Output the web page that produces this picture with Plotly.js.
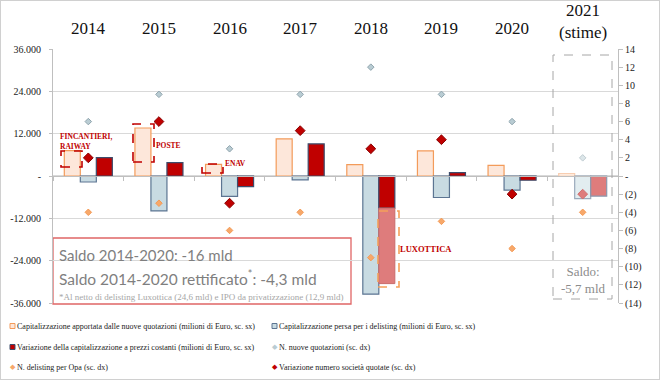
<!DOCTYPE html>
<html>
<head>
<meta charset="utf-8">
<script src="https://cdn.plot.ly/plotly-3.0.1.min.js"></script>
<style>
  html, body { margin: 0; padding: 0; background: #fff; }
  #chart { width: 658px; height: 378px; border: 1px solid #d0d0d0; }
</style>
</head>
<body>
<div id="chart"></div>
<script>
// ---------------- DATA ----------------
const years = ['2014', '2015', '2016', '2017', '2018', '2019', '2020', '2021'];
const yearLabels = ['2014', '2015', '2016', '2017', '2018', '2019', '2020', '2021<br>(stime)'];
// left axis, millions of Euro
const capNuove = [7200, 13600, 3300, 10500, 3200, 7100, 3000, 700];
const capDelisting = [-1700, -9900, -5800, -1100, -33500, -6100, -4000, -6400];
const varCap = [5200, 3800, -3000, 9100, -9100, 950, -1200, -5700];
const varCapLuxottica = [null, null, null, null, -21400, null, null, null];
// right axis, counts
const nNuove = [6, 9, 3, 9, 12, 9, 6, 2];
const nDelistingOpa = [-4, -3, -6, -4, -9, -5, -8, -4];
const varNumero = [2, 6, -3, 5, 3, 4, -2, -2];
const leftTicks = [-36000, -24000, -12000, 0, 12000, 24000, 36000];
const leftTickText = ['-36.000', '-24.000', '-12.000', '-', '12.000', '24.000', '36.000'];
const rightTicks = [-14, -12, -10, -8, -6, -4, -2, 0, 2, 4, 6, 8, 10, 12, 14];
const rightTickText = ['(14)', '(12)', '(10)', '(8)', '(6)', '(4)', '(2)', '-', '2', '4', '6', '8', '10', '12', '14'];

// ---------------- STYLE HELPERS ----------------
// pixel positions of the reference image -> paper coordinates
const PL = 53, PR = 618, PT = 49, PB = 303;
const px = x => (x - PL) / (PR - PL);
const py = y => (PB - y) / (PB - PT);
const catX = i => (i + 0.5) / years.length; // centre of category i in paper units
const est = (arr, normal, light) => arr.map((_, i) => i === arr.length - 1 ? light : normal);

const serif = 'Liberation Serif, Times New Roman, serif';

const traces = [
  {
    type: 'bar', x: years, y: capNuove, offsetgroup: 'a',
    name: 'Capitalizzazione apportata dalle nuove quotazioni (milioni di Euro, sc. sx)',
    marker: { color: est(capNuove, '#fde7da', '#fff4ee'),
              line: { color: est(capNuove, '#f39b5a', '#f8cdb0'), width: 1.2 } }
  },
  {
    type: 'bar', x: years, y: capDelisting, offsetgroup: 'b',
    name: 'Capitalizzazione persa per i delisting (milioni di Euro, sc. sx)',
    marker: { color: est(capDelisting, '#c8dbe2', '#e2edf0'),
              line: { color: est(capDelisting, '#5c7592', '#9aaabb'), width: 1.2 } }
  },
  {
    type: 'bar', x: years, y: varCap, offsetgroup: 'c',
    name: 'Variazione della capitalizzazione a prezzi costanti (milioni di Euro, sc. sx)',
    marker: { color: est(varCap, '#c00000', '#de7c7c'),
              line: { color: est(varCap, '#3d4c6b', '#8a98ad'), width: 1.2 } }
  },
  {
    type: 'bar', x: years, y: varCapLuxottica, base: varCap, offsetgroup: 'c',
    name: 'Luxottica',
    marker: { color: '#de7c7c', line: { color: '#c96a6a', width: 1 } }
  },
  {
    type: 'scatter', mode: 'markers', x: years, y: nNuove, yaxis: 'y2',
    name: 'N. nuove quotazioni (sc. dx)',
    marker: { symbol: 'diamond', size: 5, color: est(nNuove, '#b9ccd3', '#dce6e9'),
              line: { color: est(nNuove, '#8fa4ad', '#c0ccd1'), width: 1 } }
  },
  {
    type: 'scatter', mode: 'markers', x: years, y: nDelistingOpa, yaxis: 'y2',
    name: 'N. delisting per Opa (sc. dx)',
    marker: { symbol: 'diamond', size: 5, color: '#f7a86a', line: { color: '#f49a55', width: 1 } }
  },
  {
    type: 'scatter', mode: 'markers', x: years, y: varNumero, yaxis: 'y2',
    name: 'Variazione numero società quotate (sc. dx)',
    marker: { symbol: 'diamond', size: 7.5, color: est(varNumero, '#c00000', '#de7c7c'),
              line: { color: est(varNumero, '#8a0000', '#d06d6d'), width: 1 } }
  }
];
traces.forEach(t => { t.hoverinfo = 'skip'; t.showlegend = false; });

const annotations = [];
years.forEach((y, i) => {
  annotations.push({
    xref: 'paper', yref: 'paper', x: catX(i), y: py(i === years.length - 1 ? 22 : 29),
    text: yearLabels[i], showarrow: false, xanchor: 'center', yanchor: 'middle',
    font: { family: serif, size: 17, color: '#111' }
  });
});
const redLab = { family: serif, size: 7.5, color: '#c00000' };
annotations.push(
  { xref: 'paper', yref: 'paper', x: px(58), y: py(130), xanchor: 'left', yanchor: 'top', align: 'left',
    text: '<b>FINCANTIERI,<br>RAIWAY</b>', showarrow: false, font: redLab },
  { xref: 'paper', yref: 'paper', x: px(154), y: py(145), xanchor: 'left', yanchor: 'middle',
    text: '<b>POSTE</b>', showarrow: false, font: redLab },
  { xref: 'paper', yref: 'paper', x: px(223), y: py(163), xanchor: 'left', yanchor: 'middle',
    text: '<b>ENAV</b>', showarrow: false, font: redLab },
  { xref: 'paper', yref: 'paper', x: px(398), y: py(249), xanchor: 'left', yanchor: 'middle',
    text: '<b>LUXOTTICA</b>', showarrow: false, font: { family: serif, size: 8.5, color: '#c00000' } },
  { xref: 'paper', yref: 'paper', x: px(57), y: py(255), xanchor: 'left', yanchor: 'middle',
    text: 'Saldo 2014-2020: -16 mld', showarrow: false,
    font: { family: 'Lato, sans-serif', size: 15, color: '#7f7f7f' } },
  { xref: 'paper', yref: 'paper', x: px(57), y: py(277), xanchor: 'left', yanchor: 'middle',
    text: 'Saldo 2014-2020 rettificato<sup>*</sup>: -4,3 mld', showarrow: false,
    font: { family: 'Lato, sans-serif', size: 15.5, color: '#7f7f7f' } },
  { xref: 'paper', yref: 'paper', x: px(57), y: py(297), xanchor: 'left', yanchor: 'middle',
    text: '*Al netto di delisting Luxottica (24,6 mld) e IPO da privatizzazione (12,9 mld)', showarrow: false,
    font: { family: serif, size: 9, color: '#a6a6a6' } },
  { xref: 'paper', yref: 'paper', x: px(583), y: py(280), xanchor: 'center', yanchor: 'middle',
    text: 'Saldo:<br>-5,7 mld', showarrow: false,
    font: { family: serif, size: 13, color: '#8c8c8c' } }
);

const rect = (x0, x1, y0, y1, line, extra) => Object.assign({
  type: 'rect', xref: 'paper', yref: 'paper', x0: px(x0), x1: px(x1), y0: py(y1), y1: py(y0),
  line: line, fillcolor: 'rgba(0,0,0,0)', layer: 'above'
}, extra || {});
const redDash = { color: '#c00000', width: 1.6, dash: 'dash' };
const shapes = [
  rect(53, 351, 238, 304, { color: '#e06666', width: 1.3 }, { fillcolor: '#ffffff', layer: 'between' }),
  rect(61, 82, 151, 167, redDash),
  rect(133, 154, 124, 162, redDash),
  rect(202, 223, 164, 173, redDash),
  rect(378, 399, 211, 287, { color: '#f5a05a', width: 1.6, dash: 'dash' }),
  rect(553, 612, 55, 299, { color: '#a6a6a6', width: 1, dash: 'dash' })
];

// ---------------- LEGEND (drawn as keys + texts, 3 rows x 2 columns) ----------------
const legendOrder = [0, 1, 2, 4, 5, 6];        // trace indices, row by row
const legendCols = [10, 272];                   // key left edge (px)
const legendRows = [326, 347, 367];             // row centre (px)
legendOrder.forEach((ti, k) => {
  const t = traces[ti];
  const kx = legendCols[k % 2], ky = legendRows[Math.floor(k / 2)];
  const fill = Array.isArray(t.marker.color) ? t.marker.color[0] : t.marker.color;
  const line = Array.isArray(t.marker.line.color) ? t.marker.line.color[0] : t.marker.line.color;
  if (t.type === 'bar') {
    shapes.push({ type: 'rect', xref: 'paper', yref: 'paper',
      x0: px(kx), x1: px(kx + 5), y0: py(ky + 2.5), y1: py(ky - 2.5),
      fillcolor: fill, line: { color: line, width: 1 }, layer: 'above' });
  } else {
    annotations.push({ xref: 'paper', yref: 'paper', x: px(kx + 2.5), y: py(ky), xanchor: 'center', yanchor: 'middle',
      text: '◆', showarrow: false, font: { family: 'DejaVu Sans', size: 7, color: fill } });
  }
  annotations.push({ xref: 'paper', yref: 'paper', x: px(kx + 5), y: py(ky), xanchor: 'left', yanchor: 'middle',
    text: t.name, showarrow: false, font: { family: serif, size: 8, color: '#222' } });
});

const layout = {
  width: 658, height: 378,
  margin: { l: 52, r: 41, t: 48, b: 76, autoexpand: false },
  paper_bgcolor: '#fff', plot_bgcolor: '#fff',
  barmode: 'group', bargap: 0.32, bargroupgap: 0,
  showlegend: false,
  hovermode: false,
  xaxis: {
    type: 'category', range: [-0.5, 7.5], anchor: 'free', position: 0.5,
    showline: true, linecolor: '#bfbfbf', linewidth: 1,
    ticks: 'outside', ticklen: 4, tickcolor: '#bfbfbf', tickson: 'boundaries',
    showticklabels: false, showgrid: false, zeroline: false, fixedrange: true
  },
  yaxis: {
    range: [-36000, 36000], tickvals: leftTicks, ticktext: leftTickText,
    showgrid: true, gridcolor: '#d9d9d9', gridwidth: 1.3, zeroline: false,
    showline: true, linecolor: '#bfbfbf', ticks: 'outside', ticklen: 3, tickcolor: '#bfbfbf',
    ticklabelstandoff: 6,
    tickfont: { family: serif, size: 10, color: '#222' }, fixedrange: true
  },
  yaxis2: {
    overlaying: 'y', side: 'right', anchor: 'x',
    range: [-14, 14], tickvals: rightTicks, ticktext: rightTickText,
    showgrid: false, zeroline: false, showline: true, linecolor: '#bfbfbf',
    ticks: 'outside', ticklen: 4, tickcolor: '#bfbfbf',
    tickfont: { family: serif, size: 10, color: '#222' }, fixedrange: true
  },
  annotations: annotations,
  shapes: shapes
};

Plotly.newPlot('chart', traces, layout, { displayModeBar: false, staticPlot: true });
</script>
</body>
</html>
